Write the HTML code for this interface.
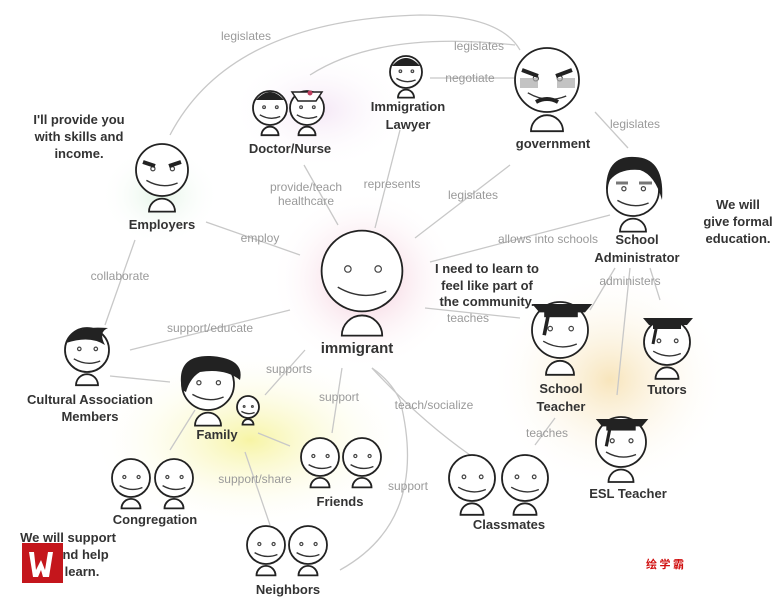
<!DOCTYPE html>
<html><head><meta charset="utf-8"><style>
html,body{margin:0;padding:0;background:#fff}
svg{display:block}
.n{font-family:"Liberation Sans","Noto Sans CJK SC",sans-serif;font-weight:bold;font-size:13px;fill:#333;text-anchor:middle}
.c{font-family:"Liberation Sans",sans-serif;font-size:12px;fill:#9a9a9a;text-anchor:middle}
.l{stroke:#c8c8c8;stroke-width:1.3;fill:none}
#p *{vector-effect:non-scaling-stroke}
</style></head><body>
<svg width="776" height="600" viewBox="0 0 776 600" xmlns="http://www.w3.org/2000/svg">
<defs>
<radialGradient id="pk"><stop offset="0" stop-color="#f0b8cc" stop-opacity=".85"/><stop offset="1" stop-color="#fff" stop-opacity="0"/></radialGradient>
<radialGradient id="yl"><stop offset="0" stop-color="#f6f39a" stop-opacity=".9"/><stop offset="1" stop-color="#fff" stop-opacity="0"/></radialGradient>
<radialGradient id="or"><stop offset="0" stop-color="#f7e2b4" stop-opacity=".9"/><stop offset="1" stop-color="#fff" stop-opacity="0"/></radialGradient>
<radialGradient id="gr"><stop offset="0" stop-color="#d8f0dc" stop-opacity=".7"/><stop offset="1" stop-color="#fff" stop-opacity="0"/></radialGradient>
<radialGradient id="pu"><stop offset="0" stop-color="#eed8f0" stop-opacity=".6"/><stop offset="1" stop-color="#fff" stop-opacity="0"/></radialGradient>
<g id="p">
<circle r="20" fill="#fff" stroke="#222" stroke-width="1.8"/>
<circle cx="-7" cy="-1" r="1.6" fill="none" stroke="#444" stroke-width="1.2"/>
<circle cx="8" cy="-1" r="1.6" fill="none" stroke="#444" stroke-width="1.2"/>
<path d="M-12 8 Q0 15 12 10" fill="none" stroke="#333" stroke-width="1.4"/>
<path d="M-10 32 A10 10 0 0 1 10 32 Z" fill="#fff" stroke="#222" stroke-width="1.8"/>
</g>
<g id="hat"><path d="M-24 -20 L26 -20 L20 -13 L-18 -13 Z" fill="#222"/><rect x="-14" y="-15" width="28" height="6" fill="#222"/><path d="M-10 -14 L-14 6" stroke="#222" stroke-width="3"/></g>
</defs>
<ellipse cx="365" cy="280" rx="95" ry="90" fill="url(#pk)"/>
<ellipse cx="320" cy="110" rx="90" ry="60" fill="url(#pu)"/>
<ellipse cx="250" cy="440" rx="160" ry="90" fill="url(#yl)"/>
<ellipse cx="610" cy="380" rx="120" ry="110" fill="url(#or)"/>
<ellipse cx="160" cy="195" rx="60" ry="50" fill="url(#gr)"/>
<path class="l" d="M170 135 Q230 20 420 15 Q500 15 520 50"/>
<path class="l" d="M310 75 Q380 30 515 45"/>
<path class="l" d="M430 78 L515 78"/>
<path class="l" d="M595 112 L628 148"/>
<path class="l" d="M510 165 L415 238"/>
<path class="l" d="M304 165 L338 225"/>
<path class="l" d="M400 130 L375 228"/>
<path class="l" d="M206 222 L300 255"/>
<path class="l" d="M610 215 L430 262"/>
<path class="l" d="M520 318 L425 308"/>
<path class="l" d="M135 240 L105 325"/>
<path class="l" d="M130 350 L290 310"/>
<path class="l" d="M110 376 L170 382"/>
<path class="l" d="M265 395 L305 350"/>
<path class="l" d="M332 433 L342 368"/>
<path class="l" d="M372 368 Q420 420 470 455"/>
<path class="l" d="M340 570 Q430 520 400 400 Q390 380 372 368"/>
<path class="l" d="M258 433 L290 446"/>
<path class="l" d="M195 410 L170 450"/>
<path class="l" d="M270 525 L245 452"/>
<path class="l" d="M535 445 L555 418"/>
<path class="l" d="M615 268 L590 310"/>
<path class="l" d="M630 268 L617 395"/>
<path class="l" d="M650 268 L660 300"/>
<text class="c" x="246" y="40">legislates</text>
<text class="c" x="479" y="50">legislates</text>
<text class="c" x="470" y="82">negotiate</text>
<text class="c" x="635" y="128">legislates</text>
<text class="c" x="306" y="191">provide/teach</text>
<text class="c" x="306" y="205">healthcare</text>
<text class="c" x="392" y="188">represents</text>
<text class="c" x="473" y="199">legislates</text>
<text class="c" x="260" y="242">employ</text>
<text class="c" x="548" y="243">allows into schools</text>
<text class="c" x="120" y="280">collaborate</text>
<text class="c" x="210" y="332">support/educate</text>
<text class="c" x="468" y="322">teaches</text>
<text class="c" x="630" y="285">administers</text>
<text class="c" x="289" y="373">supports</text>
<text class="c" x="339" y="401">support</text>
<text class="c" x="434" y="409">teach/socialize</text>
<text class="c" x="547" y="437">teaches</text>
<text class="c" x="255" y="483">support/share</text>
<text class="c" x="408" y="490">support</text>
<use href="#p" transform="translate(362,271) scale(2.02)"/>
<use href="#p" transform="translate(270,108) scale(0.85)"/>
<path d="M256 100 Q270 84 284 100 Z" fill="#222"/>
<use href="#p" transform="translate(307,108) scale(0.85)"/>
<path d="M292 92 L322 92 L316 101 L298 101 Z" fill="#fff" stroke="#222" stroke-width="1.5"/><circle cx="310" cy="93" r="2.5" fill="#c04060"/>
<use href="#p" transform="translate(406,72) scale(0.8)"/>
<path d="M392 66 Q406 50 420 66 Z" fill="#222"/>
<use href="#p" transform="translate(547,80) scale(1.6)"/>
<rect x="520" y="78" width="18" height="10" fill="#aaa" opacity=".7"/><rect x="557" y="78" width="18" height="10" fill="#aaa" opacity=".7"/>
<path d="M522 70 L538 76 M572 70 L556 76" stroke="#222" stroke-width="4"/>
<path d="M536 102 Q547 96 558 102" stroke="#222" stroke-width="4" fill="none"/>
<use href="#p" transform="translate(633,190) scale(1.3)"/>
<path d="M606 190 Q606 155 635 157 Q665 158 662 200 Q655 175 640 170 Q620 168 610 180 Z" fill="#222"/>
<path d="M616 183 L628 183 M639 183 L652 183" stroke="#777" stroke-width="3"/>
<use href="#p" transform="translate(162,170) scale(1.3)"/>
<path d="M143 162 L155 166 M181 162 L169 166" stroke="#222" stroke-width="4"/>
<use href="#p" transform="translate(87,350) scale(1.1)"/>
<path d="M66 343 Q70 325 108 328 Q98 332 105 345 Q90 335 66 343 Z" fill="#222"/>
<use href="#p" transform="translate(208,384) scale(1.3)"/>
<path d="M182 390 Q175 355 210 356 Q245 358 240 380 Q225 368 200 372 Q190 378 186 392 Z" fill="#222"/>
<use href="#p" transform="translate(248,407) scale(0.55)"/>
<use href="#p" transform="translate(131,478) scale(0.95)"/>
<use href="#p" transform="translate(174,478) scale(0.95)"/>
<use href="#p" transform="translate(320,457) scale(0.95)"/>
<use href="#p" transform="translate(362,457) scale(0.95)"/>
<use href="#p" transform="translate(266,545) scale(0.95)"/>
<use href="#p" transform="translate(308,545) scale(0.95)"/>
<use href="#p" transform="translate(472,478) scale(1.15)"/>
<use href="#p" transform="translate(525,478) scale(1.15)"/>
<use href="#p" transform="translate(560,330) scale(1.4)"/>
<use href="#hat" transform="translate(561,328) scale(1.2)"/>
<use href="#p" transform="translate(667,342) scale(1.15)"/>
<use href="#hat" transform="translate(667,338) scale(1)"/>
<use href="#p" transform="translate(621,442) scale(1.25)"/>
<use href="#hat" transform="translate(621,440) scale(1.05)"/>
<text class="n" x="357" y="353" style="font-size:15px">immigrant</text>
<text class="n" x="290" y="153">Doctor/Nurse</text>
<text class="n" x="408" y="111">Immigration</text>
<text class="n" x="408" y="129">Lawyer</text>
<text class="n" x="553" y="148">government</text>
<text class="n" x="637" y="244">School</text>
<text class="n" x="637" y="262">Administrator</text>
<text class="n" x="162" y="229">Employers</text>
<text class="n" x="90" y="404">Cultural Association</text>
<text class="n" x="90" y="421">Members</text>
<text class="n" x="217" y="439">Family</text>
<text class="n" x="155" y="524">Congregation</text>
<text class="n" x="340" y="506">Friends</text>
<text class="n" x="288" y="594">Neighbors</text>
<text class="n" x="509" y="529">Classmates</text>
<text class="n" x="561" y="393">School</text>
<text class="n" x="561" y="411">Teacher</text>
<text class="n" x="667" y="394">Tutors</text>
<text class="n" x="628" y="498">ESL Teacher</text>
<text class="n" x="79" y="124">I'll provide you</text>
<text class="n" x="79" y="141">with skills and</text>
<text class="n" x="79" y="158">income.</text>
<text class="n" x="738" y="209">We will</text>
<text class="n" x="738" y="226">give formal</text>
<text class="n" x="738" y="243">education.</text>
<text class="n" x="487" y="273">I need to learn to</text>
<text class="n" x="487" y="290">feel like part of</text>
<text class="n" x="487" y="306">the community.</text>
<text class="n" x="68" y="542">We will support</text>
<text class="n" x="82" y="559">and help</text>
<text class="n" x="82" y="576">learn.</text>
<rect x="22" y="543" width="41" height="40" fill="#c4161c"/>
<path d="M29 552 L34 552 L36 570 L41 560 L45 570 L48 552 L53 552 L49 577 L43 577 L41 570 L38 577 L33 577 Z" fill="#fff"/>
<text x="665" y="568" style="font-family:'Noto Sans CJK SC',sans-serif;font-size:11px;font-weight:bold;fill:#d01010;text-anchor:middle">绘 学 霸</text>
</svg>
</body></html>
